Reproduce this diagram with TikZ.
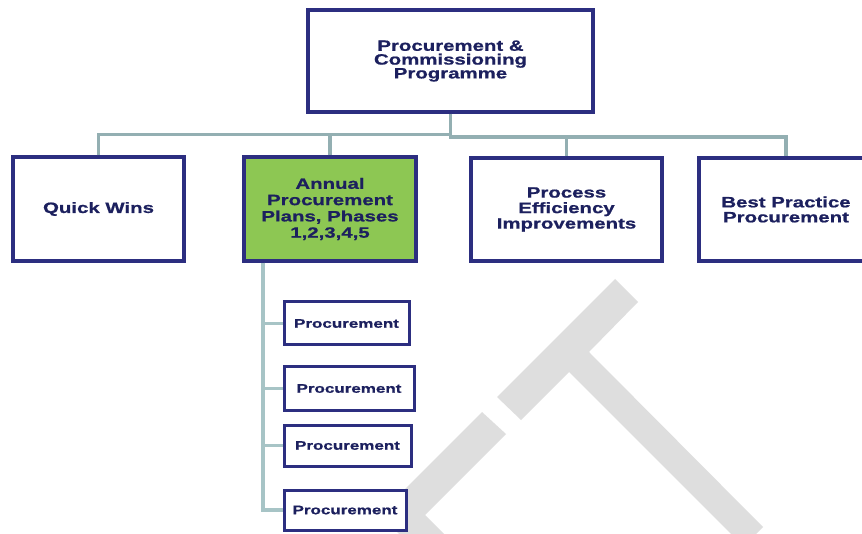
\documentclass[tikz,border=0pt]{standalone}
\usepackage{fontspec}
\setmainfont{Liberation Sans}[FakeStretch=1.36,FakeBold=0.8]
\definecolor{boxline}{HTML}{2C2E80}
\definecolor{boxtext}{HTML}{1C205E}
\definecolor{leafgreen}{HTML}{8DC753}
\definecolor{treeline}{HTML}{93AFB2}
\definecolor{subline}{HTML}{A7C4C6}
\definecolor{markgray}{HTML}{DEDEDE}
\begin{document}
\begin{tikzpicture}[x=1pt,y=-1pt,
  box/.style={rectangle, draw=boxline, line width=3.2pt, fill=white,
    text=boxtext, align=center, inner sep=0pt,
    font=\bfseries\fontsize{15}{15.5}\selectfont},
  leaf/.style={box, line width=3pt, font=\bfseries\fontsize{12.5}{14}\selectfont},
  conn/.style={draw=treeline, line width=3.6pt},
  subconn/.style={draw=subline, line width=3.4pt},
  bgmark/.style={fill=markgray}]
\useasboundingbox (0,0) rectangle (862,534);

% background mark
\fill[bgmark] (615,279) -- (497,397) -- (521,420) -- (569,372) -- (743.5,546.5)
  -- (763,527) -- (589,352) -- (638,302) -- cycle;
\fill[bgmark] (482,412) -- (379.5,514.5) -- (425,560) -- (470,560) -- (425,515)
  -- (506,434) -- cycle;

% boxes
\node[box, minimum width=285pt, minimum height=102pt,
  font=\bfseries\fontsize{15}{13.8}\selectfont] (top) at (450.5,61)
  {Procurement \&\\Commissioning\\Programme};
\node[box, minimum width=171pt, minimum height=104pt] (qw) at (98.5,209) {Quick Wins};
\node[box, fill=leafgreen, minimum width=172pt, minimum height=104pt,
  font=\bfseries\fontsize{15}{16.3}\selectfont] (ap) at (330,209)
  {Annual\\Procurement\\Plans, Phases\\1,2,3,4,5};
\node[box, minimum width=191pt, minimum height=103pt] (pe) at (566.5,209.5)
  {Process\\Efficiency\\Improvements};
\node[box, minimum width=174pt, minimum height=103pt,
  font=\bfseries\fontsize{15}{15}\selectfont] (bp) at (786,209.5)
  {Best Practice\\Procurement};

\node[leaf, minimum width=125pt, minimum height=43pt] (s1) at (346.5,323.5) {Procurement};
\node[leaf, minimum width=130pt, minimum height=43pt] (s2) at (349,388.5) {Procurement};
\node[leaf, minimum width=127pt, minimum height=41pt] (s3) at (347.5,445.5) {Procurement};
\node[leaf, minimum width=122pt, minimum height=40pt] (s4) at (345,510) {Procurement};

% bus levels and the spine of the sub-list
\coordinate (busL) at (0,134.5);
\coordinate (busR) at (0,137);
\coordinate (spine) at (263,0);

% first-level connectors
\draw[conn] (qw.north) -- (qw.north |- busL) -- (top.south |- busL);
\draw[conn] (ap.north) -- (ap.north |- busL);
\draw[conn] (top.south) -- (top.south |- busR) -- (bp.north |- busR) -- (bp.north);
\draw[conn] (pe.north) -- (pe.north |- busR);

% sub-list connectors
\draw[subconn] (spine |- ap.south) -- (spine |- s4.west) -- (s4.west);
\draw[subconn] (spine |- s1.west) -- (s1.west);
\draw[subconn] (spine |- s2.west) -- (s2.west);
\draw[subconn] (spine |- s3.west) -- (s3.west);
\end{tikzpicture}
\end{document}
